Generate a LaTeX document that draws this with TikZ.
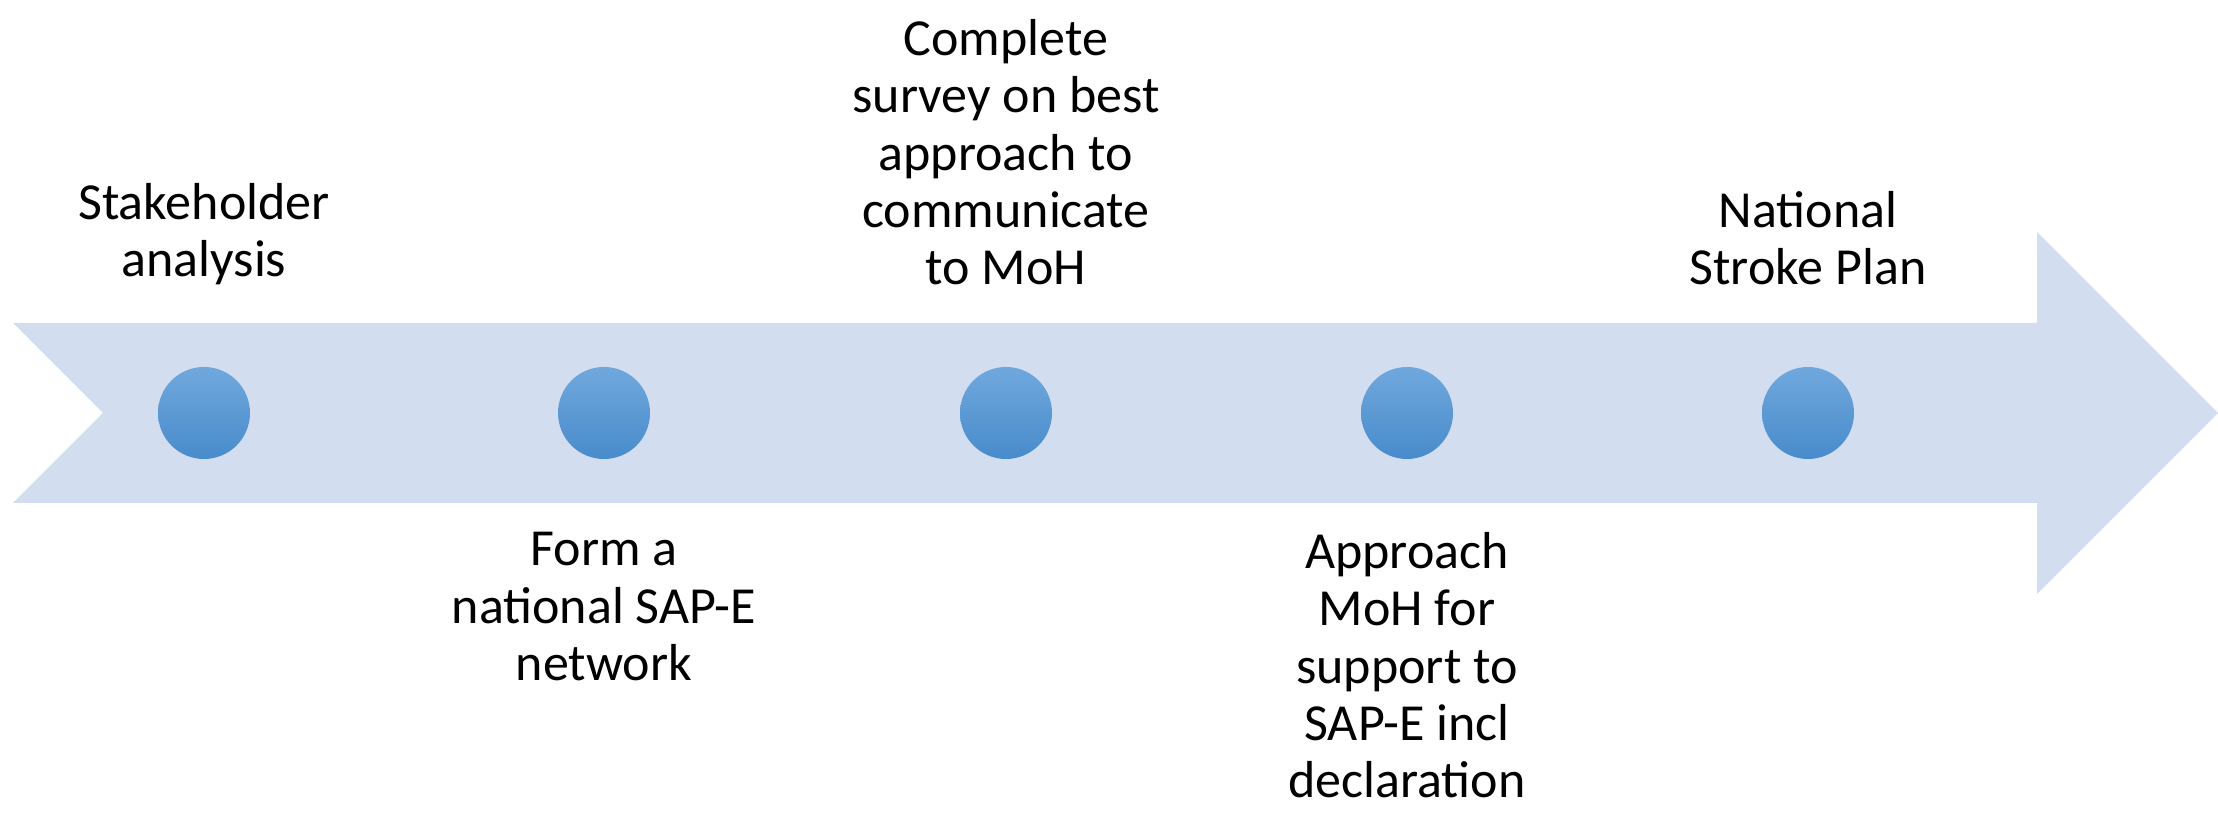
\documentclass[tikz,border=0pt]{standalone}
\usepackage{fontspec}
\setmainfont{Carlito}
\usetikzlibrary{positioning}
\begin{document}
\begin{tikzpicture}[x=0.3pt,y=0.3pt,
  dot/.style={circle,minimum size=27.6pt,inner sep=0pt,outer sep=0pt,
    top color=dotTop,middle color=dotMid,bottom color=dotBottom},
  stagetext/.style={align=center,inner sep=0pt,outer sep=0pt,
    font=\fontsize{15.6}{17.2}\selectfont}]
\definecolor{arrowFill}{RGB}{210,222,239}
\definecolor{dotTop}{RGB}{112,168,221}
\definecolor{dotMid}{RGB}{91,155,213}
\definecolor{dotBottom}{RGB}{72,139,203}
\path[use as bounding box] (0,0) rectangle (2218,819);

% notched arrow
\path[fill=arrowFill] (13,496) -- (2037,496) -- (2037,587) -- (2218,406) --
	(2037,225) -- (2037,316) -- (13,316) -- (103,406) -- cycle;

% milestones
\foreach \n/\x in {1/204,2/604,3/1006,4/1407,5/1808}
  \node[dot] (dot\n) at (\x,406) {};

\node[stagetext,above=24.5pt of dot1] (lbl1) {Stakeholder\\analysis};
\node[stagetext,below=22pt of dot2] (lbl2) {Form a\\national SAP-E\\network};
\node[stagetext,above=24.5pt of dot3] (lbl3) {Complete\\survey on best\\approach to\\communicate\\to MoH};
\node[stagetext,below=22pt of dot4] (lbl4) {Approach\\MoH for\\support to\\SAP-E incl\\declaration};
\node[stagetext,above=24.5pt of dot5] (lbl5) {National\\Stroke Plan};
\end{tikzpicture}
\end{document}
